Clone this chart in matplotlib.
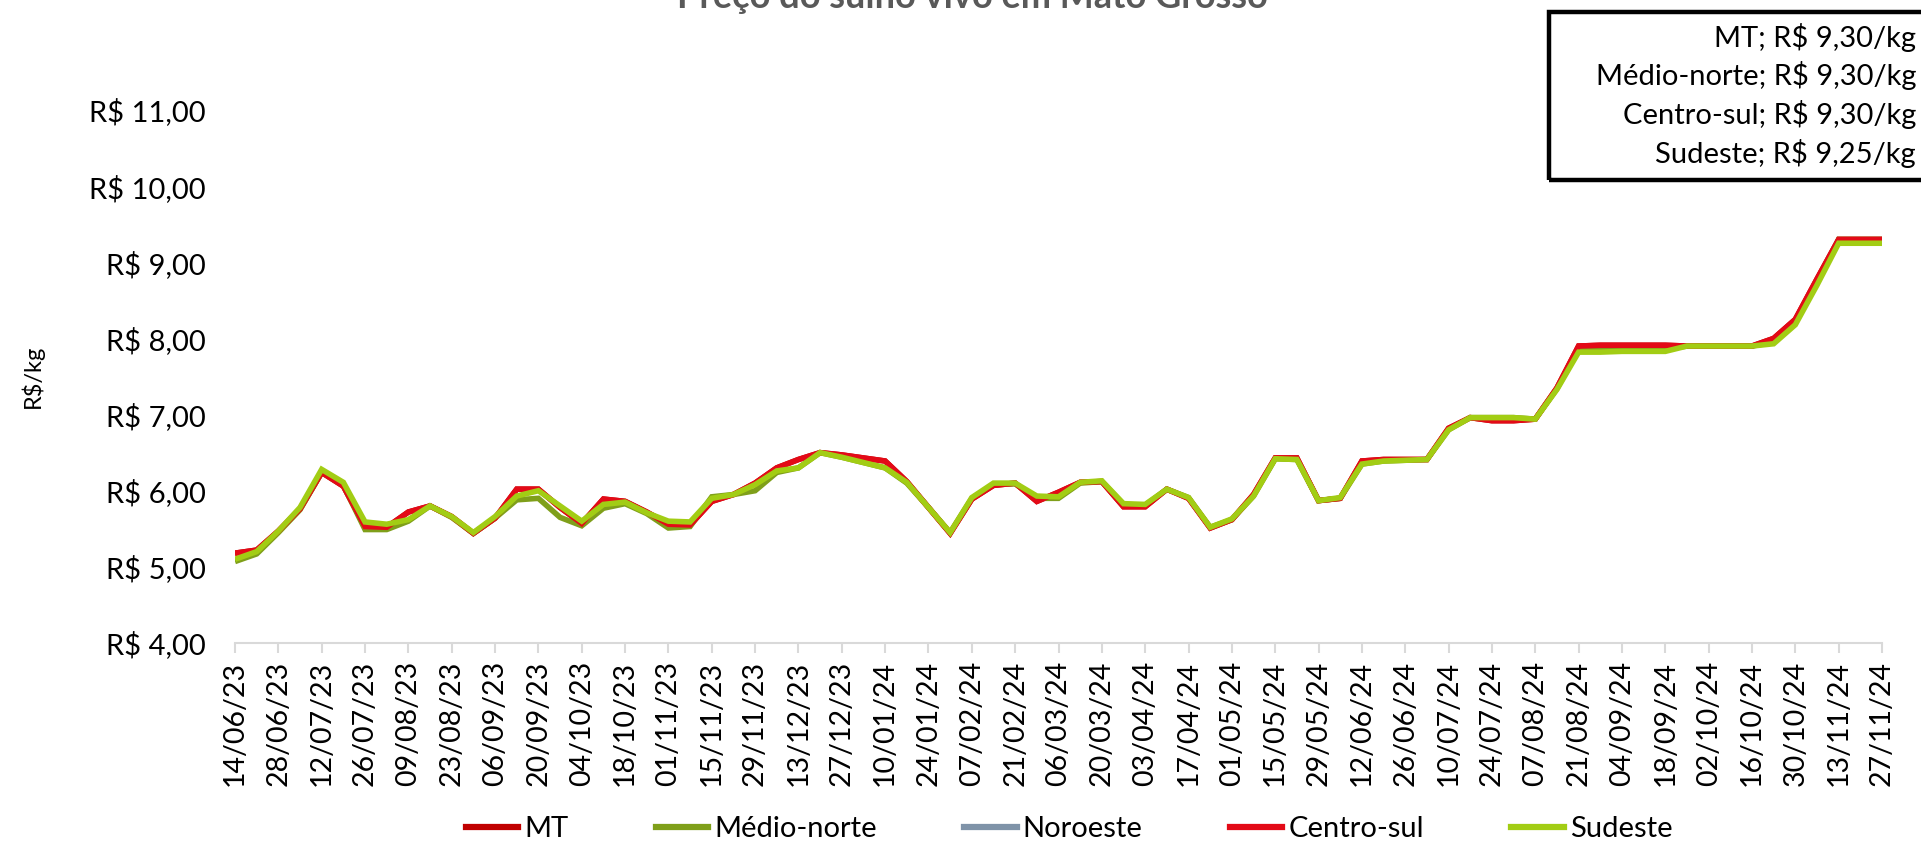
import matplotlib
matplotlib.use("Agg")
import matplotlib.pyplot as plt
from matplotlib.patches import Rectangle
from matplotlib.lines import Line2D

plt.rcParams['font.family'] = ['Lato', 'DejaVu Sans']

tick_labels = ["14/06/23", "28/06/23", "12/07/23", "26/07/23", "09/08/23", "23/08/23",
               "06/09/23", "20/09/23", "04/10/23", "18/10/23", "01/11/23", "15/11/23",
               "29/11/23", "13/12/23", "27/12/23", "10/01/24", "24/01/24", "07/02/24",
               "21/02/24", "06/03/24", "20/03/24", "03/04/24", "17/04/24", "01/05/24",
               "15/05/24", "29/05/24", "12/06/24", "26/06/24", "10/07/24", "24/07/24",
               "07/08/24", "21/08/24", "04/09/24", "18/09/24", "02/10/24", "16/10/24",
               "30/10/24", "13/11/24", "27/11/24"]

sudeste = [5.10, 5.20, 5.47, 5.78, 6.28, 6.11, 5.59, 5.56, 5.62, 5.80,
           5.66, 5.45, 5.66, 5.93, 6.00, 5.80, 5.60, 5.82, 5.85, 5.71,
           5.60, 5.59, 5.90, 5.95, 6.08, 6.26, 6.30, 6.50, 6.44, 6.37,
           6.30, 6.11, 5.78, 5.45, 5.91, 6.10, 6.10, 5.93, 5.92, 6.11,
           6.13, 5.83, 5.82, 6.02, 5.91, 5.52, 5.63, 5.93, 6.42, 6.41,
           5.87, 5.91, 6.35, 6.39, 6.40, 6.41, 6.80, 6.96, 6.96, 6.96,
           6.94, 7.33, 7.82, 7.82, 7.83, 7.83, 7.83, 7.90, 7.90, 7.90,
           7.90, 7.93, 8.18, 8.70, 9.25, 9.25, 9.25]

centro_sul = [5.18, 5.22, 5.47, 5.76, 6.24, 6.06, 5.53, 5.52, 5.72, 5.80,
              5.66, 5.44, 5.64, 6.02, 6.02, 5.78, 5.57, 5.89, 5.86, 5.72,
              5.56, 5.55, 5.86, 5.95, 6.10, 6.30, 6.41, 6.50, 6.47, 6.43,
              6.39, 6.12, 5.78, 5.44, 5.89, 6.07, 6.10, 5.86, 5.98, 6.11,
              6.12, 5.79, 5.79, 6.02, 5.90, 5.51, 5.62, 5.95, 6.43, 6.43,
              5.87, 5.90, 6.39, 6.41, 6.41, 6.41, 6.82, 6.96, 6.92, 6.92,
              6.94, 7.35, 7.90, 7.91, 7.91, 7.91, 7.91, 7.90, 7.90, 7.90,
              7.90, 8.00, 8.25, 8.78, 9.30, 9.30, 9.30]

medio_norte = [5.07, 5.17, 5.45, 5.75, 6.24, 6.07, 5.49, 5.49, 5.60, 5.80,
               5.65, 5.44, 5.64, 5.88, 5.90, 5.65, 5.54, 5.77, 5.83, 5.70,
               5.51, 5.53, 5.92, 5.95, 6.00, 6.24, 6.30, 6.50, 6.44, 6.37,
               6.30, 6.10, 5.78, 5.45, 5.90, 6.08, 6.09, 5.90, 5.90, 6.10,
               6.12, 5.82, 5.81, 6.02, 5.91, 5.52, 5.62, 5.93, 6.42, 6.41,
               5.87, 5.90, 6.35, 6.39, 6.40, 6.41, 6.80, 6.96, 6.96, 6.96,
               6.94, 7.34, 7.85, 7.85, 7.85, 7.85, 7.86, 7.90, 7.90, 7.90,
               7.90, 7.95, 8.20, 8.74, 9.30, 9.30, 9.30]

mt = [5.18, 5.22, 5.47, 5.76, 6.24, 6.06, 5.53, 5.52, 5.72, 5.80,
      5.66, 5.44, 5.64, 6.02, 6.02, 5.78, 5.57, 5.89, 5.86, 5.72,
      5.56, 5.55, 5.86, 5.95, 6.10, 6.30, 6.41, 6.50, 6.47, 6.43,
      6.39, 6.12, 5.78, 5.44, 5.89, 6.07, 6.10, 5.86, 5.98, 6.11,
      6.12, 5.79, 5.79, 6.02, 5.90, 5.51, 5.62, 5.95, 6.43, 6.43,
      5.87, 5.90, 6.39, 6.41, 6.41, 6.41, 6.82, 6.96, 6.92, 6.92,
      6.94, 7.35, 7.90, 7.91, 7.91, 7.91, 7.91, 7.90, 7.90, 7.90,
      7.90, 8.00, 8.25, 8.78, 9.30, 9.30, 9.30]

noroeste = []  # no visible data

series_names = ["MT", "Médio-norte", "Noroeste", "Centro-sul", "Sudeste"]
series_colors = ["#C00000", "#7F9F1A", "#7F93A8", "#E30A17", "#A2CD14"]

box_lines = ["MT; R$ 9,30/kg", "Médio-norte; R$ 9,30/kg",
             "Centro-sul; R$ 9,30/kg", "Sudeste; R$ 9,25/kg"]

W, H = 1921, 844
fig = plt.figure(figsize=(W / 100, H / 100), dpi=100)
ax_left, ax_right = 235, 1882
ax = fig.add_axes([ax_left / W, 1 - 643 / H, (ax_right - ax_left) / W, (643 - 110) / H])

all_series = [mt, medio_norte, noroeste, centro_sul, sudeste]
for vals, name, col in zip(all_series, series_names, series_colors):
    ax.plot(range(len(vals)), vals, color=col, lw=4.0, solid_joinstyle='miter',
            solid_capstyle='butt', label=name)

ax.set_xlim(0, len(sudeste) - 1)
ax.set_ylim(4, 11)
ax.set_yticks([4, 5, 6, 7, 8, 9, 10, 11])
ax.set_yticklabels([f"R$ {v},00" for v in [4, 5, 6, 7, 8, 9, 10, 11]])
ax.set_xticks(range(0, len(sudeste), 2))
ax.set_xticklabels(tick_labels, rotation=90)

for s in ['left', 'top', 'right']:
    ax.spines[s].set_visible(False)
ax.spines['bottom'].set_color('#D9D9D9')
ax.spines['bottom'].set_linewidth(1.5)
ax.tick_params(axis='x', length=7, width=1.5, color='#D9D9D9', pad=6,
               labelsize=20.5, labelcolor='black')
ax.tick_params(axis='y', length=0, pad=21, labelsize=21, labelcolor='black')
ax.set_ylabel("R$/kg", fontsize=17)
ax.yaxis.set_label_coords((44 - ax_left) / (ax_right - ax_left), 0.5)

# title (partially cut at top)
fig.text(972 / W, 1 - 8 / H, "Preço do suíno vivo em Mato Grosso", ha='center',
         va='baseline', fontsize=26, fontweight='bold', color='#595959')

# value box at top-right
fig.patches.append(Rectangle((1549 / W, 1 - 180 / H), 500 / W, 168 / H,
                             transform=fig.transFigure, fill=False,
                             edgecolor='black', lw=3.2, clip_on=False))
for k, line in enumerate(box_lines):
    fig.text(1916 / W, 1 - (37 + 38.7 * k) / H, line, ha='right', va='center',
             fontsize=21, color='black')

handles = [Line2D([], [], color=c, lw=4.5) for c in series_colors]
fig.legend(handles, series_names, loc='center', bbox_to_anchor=(1069 / W, 1 - 829 / H),
           ncol=5, frameon=False, fontsize=21, handlelength=1.8, handletextpad=0.2,
           columnspacing=3.0, borderaxespad=0, borderpad=0)

fig.savefig("out.png", dpi=100)
